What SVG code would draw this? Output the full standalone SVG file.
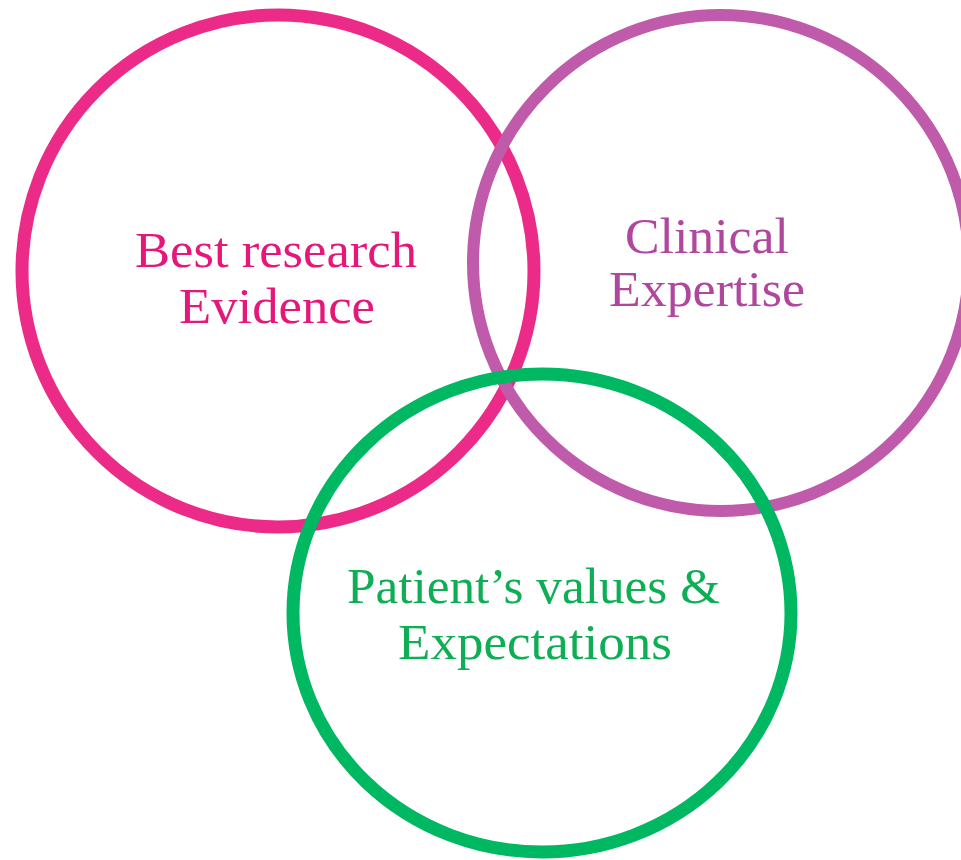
<svg xmlns="http://www.w3.org/2000/svg" width="961" height="860" viewBox="0 0 961 860">
  <style>
    .ring { fill: none; }
    .label { font-family: "Liberation Serif", "DejaVu Serif", serif; font-size: 50px; }
    .research { stroke: #EC2B89; stroke-width: 13; }
    .expertise { stroke: #BF5BAA; stroke-width: 12; }
    .patient { stroke: #00B862; stroke-width: 13; }
    .t-research { fill: #E5187A; }
    .t-expertise { fill: #B0479E; }
    .t-patient { fill: #0EAE55; }
  </style>
  <rect width="961" height="860" fill="#ffffff"/>

  <!-- Best research evidence -->
  <g id="node-research">
    <circle class="ring research" cx="278" cy="271" r="256"/>
    <text class="label t-research" x="135" y="267" textLength="282" lengthAdjust="spacingAndGlyphs">Best research</text>
    <text class="label t-research" x="179" y="323" textLength="196" lengthAdjust="spacingAndGlyphs">Evidence</text>
  </g>

  <!-- Clinical expertise -->
  <g id="node-expertise">
    <circle class="ring expertise" cx="721" cy="263" r="248"/>
    <text class="label t-expertise" x="625" y="253" textLength="164" lengthAdjust="spacingAndGlyphs">Clinical</text>
    <text class="label t-expertise" x="609" y="306" textLength="196" lengthAdjust="spacingAndGlyphs">Expertise</text>
  </g>

  <!-- Patient's values and expectations -->
  <g id="node-patient">
    <ellipse class="ring patient" cx="542" cy="613" rx="249" ry="239"/>
    <text class="label t-patient" x="347" y="603" textLength="373" lengthAdjust="spacingAndGlyphs">Patient’s values &amp;</text>
    <text class="label t-patient" x="398" y="659" textLength="274" lengthAdjust="spacingAndGlyphs">Expectations</text>
  </g>

  <g id="connectors"/>
</svg>
